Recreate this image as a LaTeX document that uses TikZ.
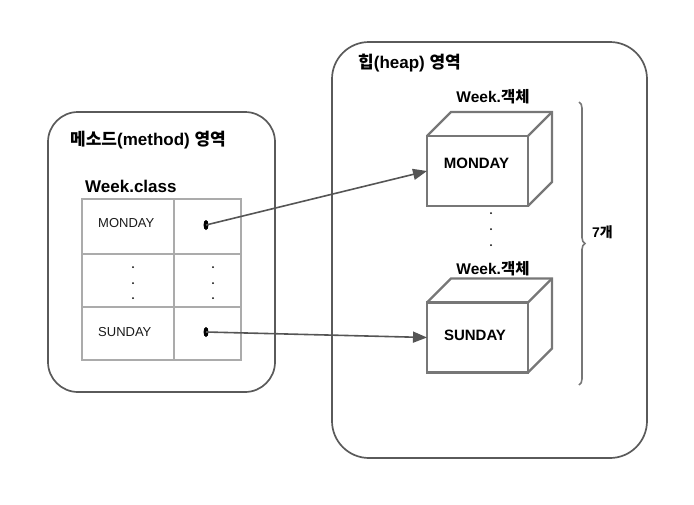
\documentclass[tikz,border=0pt]{standalone}
\usepackage{fontspec}
\setmainfont{Liberation Sans}
\newfontfamily\kr{Noto Sans CJK KR}
\usetikzlibrary{arrows.meta,decorations.pathreplacing,shapes.geometric}
\definecolor{regionc}{HTML}{5A5A5A}
\definecolor{cubec}{HTML}{777777}
\definecolor{gridc}{HTML}{ABABAB}
\definecolor{arrowc}{HTML}{555555}
\definecolor{txtc}{HTML}{1A1A1A}
\begin{document}
\begin{tikzpicture}[x=1pt,y=-1pt,
  region/.style={draw=regionc,line width=1.7pt,inner sep=0pt,outer sep=0pt},
  cell/.style={draw=gridc,line width=1.7pt,inner sep=0pt,outer sep=0pt},
  face/.style={draw=cubec,line width=2.2pt,inner sep=0pt,outer sep=0pt,minimum width=101pt,minimum height=70pt},
  edge/.style={draw=cubec,line width=2.2pt,line join=miter},
  title/.style={font=\fontsize{17}{20}\selectfont\bfseries,inner sep=0pt},
  celltxt/.style={font=\fontsize{13}{15}\selectfont,text=txtc,inner sep=0pt,anchor=west},
  cubetxt/.style={font=\fontsize{15}{18}\selectfont\bfseries,inner sep=0pt},
  refdot/.style={ellipse,fill=black,draw=none,minimum width=5pt,minimum height=10pt,inner sep=0pt},
  smalldot/.style={circle,fill=black,draw=none,minimum size=2pt,inner sep=0pt},
  arrow/.style={draw=arrowc,line width=1.6pt,-{Triangle[length=14pt,width=11pt]}},
  bracestyle/.style={draw=cubec,line width=1.6pt,decorate,decoration={brace,amplitude=6pt}}
]
\useasboundingbox (0,0) rectangle (694,504);
% regions
\node[region,rounded corners=30pt,minimum width=227pt,minimum height=280pt] (method) at (161.5,252) {};
\node[region,rounded corners=37pt,minimum width=315pt,minimum height=416pt] (heap) at (489.5,250) {};
\node[title,anchor=west] (methodt) at (70,140) {{\kr 메소드}(method) {\kr 영역}};
\node[title,anchor=west] (heapt) at (358,63) {{\kr 힙}(heap) {\kr 영역}};
% table
\node[title,anchor=west] (classt) at (85,186) {Week.class};
\node[cell,minimum width=92pt,minimum height=55pt] (c11) at (128,226.5) {};
\node[cell,minimum width=67pt,minimum height=55pt] (c12) at (207.5,226.5) {};
\node[cell,minimum width=92pt,minimum height=53pt] (c21) at (128,280.5) {};
\node[cell,minimum width=67pt,minimum height=53pt] (c22) at (207.5,280.5) {};
\node[cell,minimum width=92pt,minimum height=53pt] (c31) at (128,333.5) {};
\node[cell,minimum width=67pt,minimum height=53pt] (c32) at (207.5,333.5) {};
\node[celltxt] (mont) at (98,223) {MONDAY};
\node[celltxt] (sunt) at (98,332) {SUNDAY};
\node[smalldot] (ld1) at (133,267) {};
\node[smalldot] (ld2) at (133,283) {};
\node[smalldot] (ld3) at (133,298) {};
\node[smalldot] (rd1) at (213,267) {};
\node[smalldot] (rd2) at (213,283) {};
\node[smalldot] (rd3) at (213,298) {};
\node[refdot] (mdot) at (206,225) {};
\node[refdot] (sdot) at (206,332) {};
% cubes
\node[face] (mon) at (477.5,171) {};
\draw[edge] (mon.north west) -- ++(24,-24) -- ++(101,0) -- ++(0,70) -- (mon.south east);
\draw[edge] (mon.north east) -- ++(24,-24);
\node[cubetxt] (monl) at (476.5,163) {MONDAY};
\node[title,font=\fontsize{15.5}{18}\selectfont\bfseries] (w1) at (493,97) {Week.{\kr 객체}};
\node[face] (sun) at (477.5,337.5) {};
\draw[edge] (sun.north west) -- ++(24,-24) -- ++(101,0) -- ++(0,70) -- (sun.south east);
\draw[edge] (sun.north east) -- ++(24,-24);
\node[cubetxt] (sunl) at (475,335) {SUNDAY};
\node[title,font=\fontsize{15.5}{18}\selectfont\bfseries] (w2) at (493,269) {Week.{\kr 객체}};
\node[smalldot] (cd1) at (491,213) {};
\node[smalldot] (cd2) at (491,229) {};
\node[smalldot] (cd3) at (491,245) {};
% arrows
\draw[arrow] (mdot.center) -- (mon.west);
\draw[arrow] (sdot.center) -- (sun.west);
% brace
\coordinate (bt) at (579,102);
\coordinate (bb) at (579,385);
\draw[bracestyle] (bt) -- (bb);
\node[title,font=\fontsize{14}{17}\selectfont\bfseries,anchor=west] (cnt) at (592,232) {7{\kr 개}};
\end{tikzpicture}
\end{document}
